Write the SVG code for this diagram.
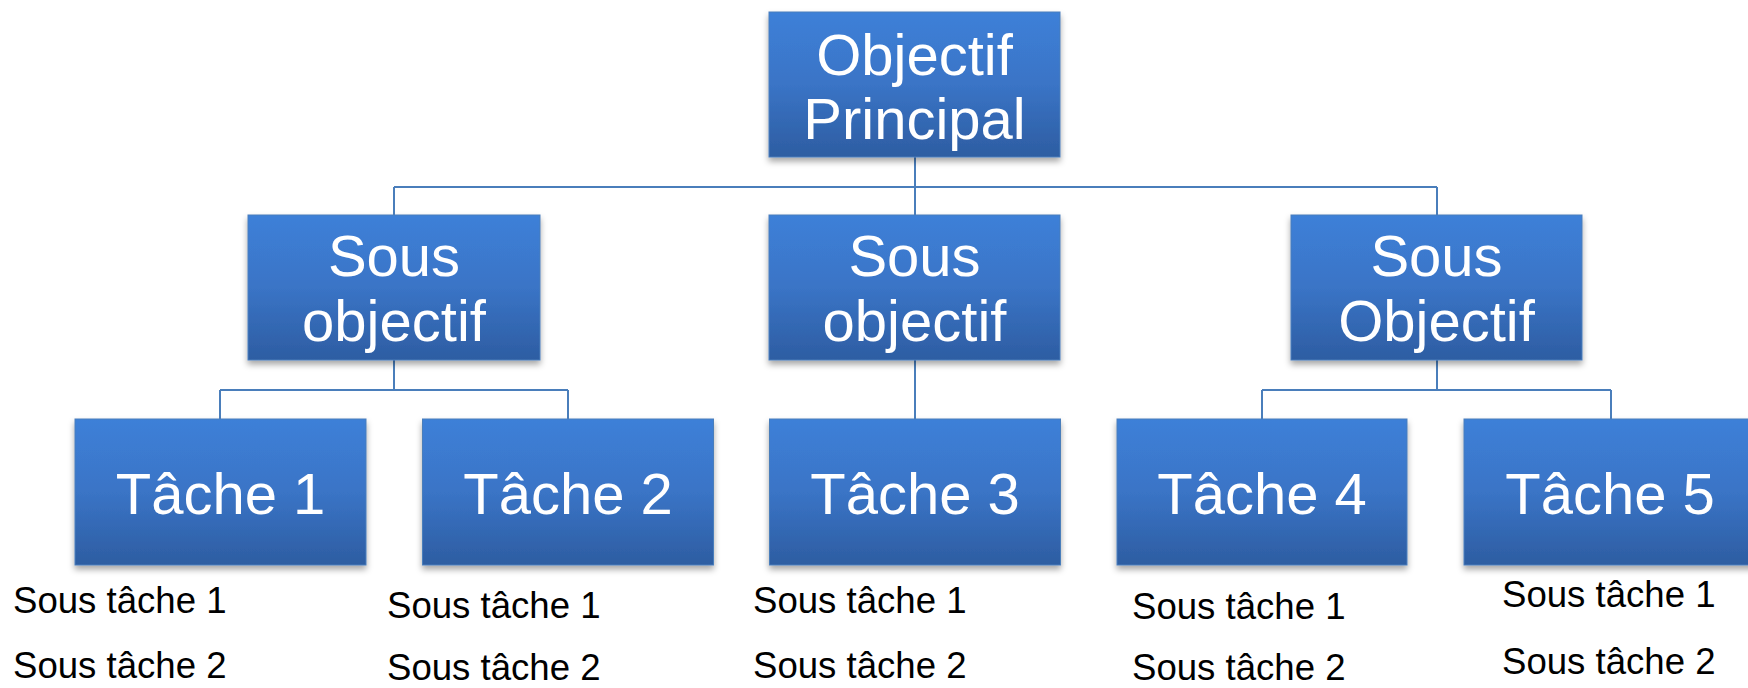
<svg xmlns="http://www.w3.org/2000/svg" width="1748" height="688" viewBox="0 0 1748 688">
<defs>
<linearGradient id="g" x1="0" y1="0" x2="0" y2="1">
<stop offset="0" stop-color="#3D80D8"/>
<stop offset="0.5" stop-color="#3A74C6"/>
<stop offset="1" stop-color="#2D5DA2"/>
</linearGradient>
<filter id="sh" x="-10%" y="-10%" width="120%" height="130%">
<feDropShadow dx="0" dy="4" stdDeviation="3" flood-color="#000" flood-opacity="0.35"/>
</filter>
</defs>
<style>
.box{fill:url(#g);stroke:#4A7EBB;stroke-width:1;filter:url(#sh)}
.bt{font-family:"Liberation Sans",Arial,sans-serif;fill:#fff;text-anchor:middle;font-size:58px}
.st{font-family:"Liberation Sans",Arial,sans-serif;fill:#000;font-size:36.6px}
.c{fill:none;stroke:#4A7EBB;stroke-width:2}
</style>
<rect width="1748" height="688" fill="#fff"/>
<g id="connectors">
<path class="c" d="M915,157V187M394,187H1437M394,187V215M915,187V215M1437,187V215"/>
<path class="c" d="M394,360V390M220,390H568M220,390V419M568,390V419"/>
<path class="c" d="M915,360V419"/>
<path class="c" d="M1437,360V390M1262,390H1611M1262,390V419M1611,390V419"/>
</g>
<g id="objectif-principal">
<rect class="box" x="769" y="12" width="291" height="145"/>
<text class="bt" x="914.5" y="75">Objectif</text>
<text class="bt" x="914.5" y="139">Principal</text>
</g>
<g id="sous-objectif-1">
<rect class="box" x="248" y="215" width="292" height="145"/>
<text class="bt" x="394" y="276">Sous</text>
<text class="bt" x="394" y="341">objectif</text>
</g>
<g id="sous-objectif-2">
<rect class="box" x="769" y="215" width="291" height="145"/>
<text class="bt" x="914.5" y="276">Sous</text>
<text class="bt" x="914.5" y="341">objectif</text>
</g>
<g id="sous-objectif-3">
<rect class="box" x="1291" y="215" width="291" height="145"/>
<text class="bt" x="1436.5" y="276">Sous</text>
<text class="bt" x="1436.5" y="341">Objectif</text>
</g>
<g id="tache-1">
<rect class="box" x="75" y="419" width="291" height="146"/>
<text class="bt" x="220.5" y="514">Tâche 1</text>
</g>
<g id="tache-2">
<rect class="box" x="422.5" y="419" width="291" height="146"/>
<text class="bt" x="568" y="514">Tâche 2</text>
</g>
<g id="tache-3">
<rect class="box" x="769.5" y="419" width="291" height="146"/>
<text class="bt" x="915" y="514">Tâche 3</text>
</g>
<g id="tache-4">
<rect class="box" x="1117" y="419" width="290" height="146"/>
<text class="bt" x="1262" y="514">Tâche 4</text>
</g>
<g id="tache-5">
<rect class="box" x="1464" y="419" width="300" height="146"/>
<text class="bt" x="1610" y="514">Tâche 5</text>
</g>
<g id="sous-taches">
<text class="st" x="13" y="613">Sous tâche 1</text>
<text class="st" x="13" y="678">Sous tâche 2</text>
<text class="st" x="387" y="618">Sous tâche 1</text>
<text class="st" x="387" y="680">Sous tâche 2</text>
<text class="st" x="753" y="613">Sous tâche 1</text>
<text class="st" x="753" y="678">Sous tâche 2</text>
<text class="st" x="1132" y="619">Sous tâche 1</text>
<text class="st" x="1132" y="680">Sous tâche 2</text>
<text class="st" x="1502" y="607">Sous tâche 1</text>
<text class="st" x="1502" y="674">Sous tâche 2</text>
</g>
</svg>
